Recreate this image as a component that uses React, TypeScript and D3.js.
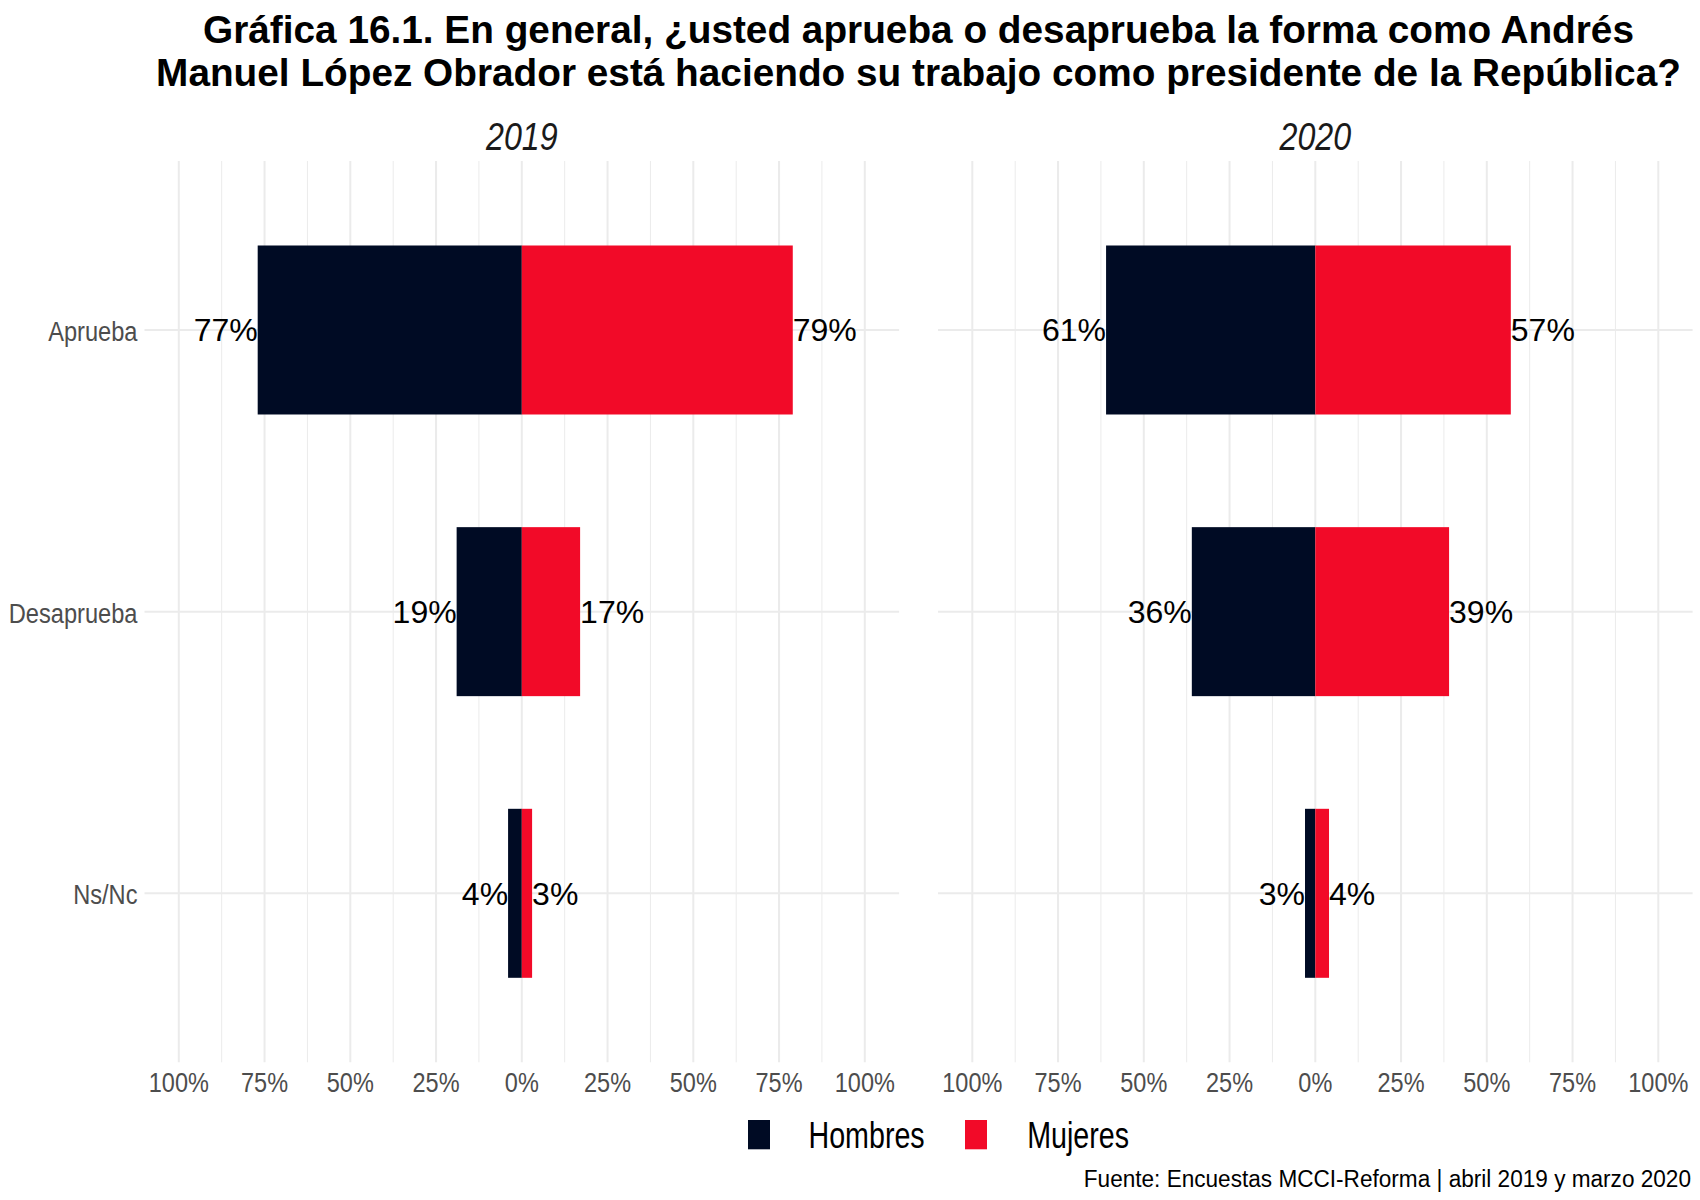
import React from 'react';
import * as d3 from 'd3';

const categories = ['Aprueba', 'Desaprueba', 'Ns/Nc'];
const years = ['2019', '2020'];
const series = ['Hombres', 'Mujeres'];
const hombres2019 = [77, 19, 4];
const mujeres2019 = [79, 17, 3];
const hombres2020 = [61, 36, 3];
const mujeres2020 = [57, 39, 4];
const majorTicks = [-100, -75, -50, -25, 0, 25, 50, 75, 100];
const minorTicks = [-87.5, -62.5, -37.5, -12.5, 12.5, 37.5, 62.5, 87.5];
const colors = ['#000B24', '#F20A28'];

const titleLines = [
  'Gráfica 16.1. En general, ¿usted aprueba o desaprueba la forma como Andrés',
  'Manuel López Obrador está haciendo su trabajo como presidente de la República?',
];
const caption = 'Fuente: Encuestas MCCI-Reforma | abril 2019 y marzo 2020';

const SANS = "'Liberation Sans', Arial, sans-serif";

const W = 1700;
const H = 1200;

const panelData = [
  { year: years[0], hombres: hombres2019, mujeres: mujeres2019, range: [144.5, 899.1] },
  { year: years[1], hombres: hombres2020, mujeres: mujeres2020, range: [938, 1692.6] },
];

const y = d3.scaleBand<string>()
  .domain(categories)
  .range([161, 1062.3])
  .paddingInner(0.4)
  .paddingOuter(0.3);

const pct = (v: number) => `${Math.abs(v)}%`;

// condensed text: the reference uses a narrow face, so squeeze Liberation Sans horizontally
function T({ x, y, sx = 1, anchor = 'start', size, fill = '#000', weight, italic, children }: any) {
  return (
    <text transform={`translate(${x},${y}) scale(${sx},1)`} textAnchor={anchor}
      fontFamily={SANS} fontSize={size} fill={fill} fontWeight={weight}
      fontStyle={italic ? 'italic' : undefined}>{children}</text>
  );
}

function Panel({ p }: { p: typeof panelData[0] }) {
  const x = d3.scaleLinear().domain([-110, 110]).range(p.range);
  const [x0, x1] = p.range;
  const bw = y.bandwidth();
  const [yTop, yBot] = y.range();
  return (
    <g>
      {minorTicks.map(t => (
        <line key={'m' + t} x1={x(t)} x2={x(t)} y1={yTop} y2={yBot} stroke="#EBEBEB" strokeWidth={1} />
      ))}
      {majorTicks.map(t => (
        <line key={'M' + t} x1={x(t)} x2={x(t)} y1={yTop} y2={yBot} stroke="#EBEBEB" strokeWidth={2} />
      ))}
      {categories.map(c => (
        <line key={c} x1={x0} x2={x1} y1={y(c)! + bw / 2} y2={y(c)! + bw / 2}
          stroke="#EBEBEB" strokeWidth={2} />
      ))}
      {categories.map((c, i) => (
        <g key={'b' + c}>
          <rect x={x(-p.hombres[i])} y={y(c)} width={x(0) - x(-p.hombres[i])} height={bw} fill={colors[0]} />
          <rect x={x(0)} y={y(c)} width={x(p.mujeres[i]) - x(0)} height={bw} fill={colors[1]} />
          <T x={x(-p.hombres[i])} y={y(c)! + bw / 2 + 11.5} anchor="end" size={32}>{pct(p.hombres[i])}</T>
          <T x={x(p.mujeres[i])} y={y(c)! + bw / 2 + 11.5} size={32}>{pct(p.mujeres[i])}</T>
        </g>
      ))}
      {majorTicks.map(t => (
        <T key={'t' + t} x={x(t)} y={1091.7} anchor="middle" size={28} sx={0.84} fill="#4D4D4D">{pct(t)}</T>
      ))}
      <T x={x(0)} y={150} anchor="middle" size={39.5} sx={0.815} italic fill="#1A1A1A">{p.year}</T>
    </g>
  );
}

export default function App() {
  const bw = y.bandwidth();
  const legendX = [748, 965];
  const legendTextX = [808.5, 1027.2];
  return (
    <svg width={W} height={H} style={{ position: 'absolute', left: 0, top: 0, background: '#fff' }}>
      <rect width={W} height={H} fill="#fff" />
      {titleLines.map((t, i) => (
        <T key={i} x={918.5} y={42.7 + i * 43.3} anchor="middle" weight="bold" size={39} sx={0.994}>{t}</T>
      ))}
      {categories.map(c => (
        <T key={c} x={137.5} y={y(c)! + bw / 2 + 11} anchor="end" size={27.5} sx={0.86} fill="#4D4D4D">{c}</T>
      ))}
      {panelData.map(p => <Panel key={p.year} p={p} />)}
      {series.map((s, i) => (
        <g key={s}>
          <rect x={legendX[i]} y={1120} width={22} height={29.3} fill={colors[i]} />
          <T x={legendTextX[i]} y={1148.3} size={36.5} sx={0.785}>{s}</T>
        </g>
      ))}
      <T x={1691} y={1186.7} anchor="end" size={24.3} sx={0.93}>{caption}</T>
    </svg>
  );
}
